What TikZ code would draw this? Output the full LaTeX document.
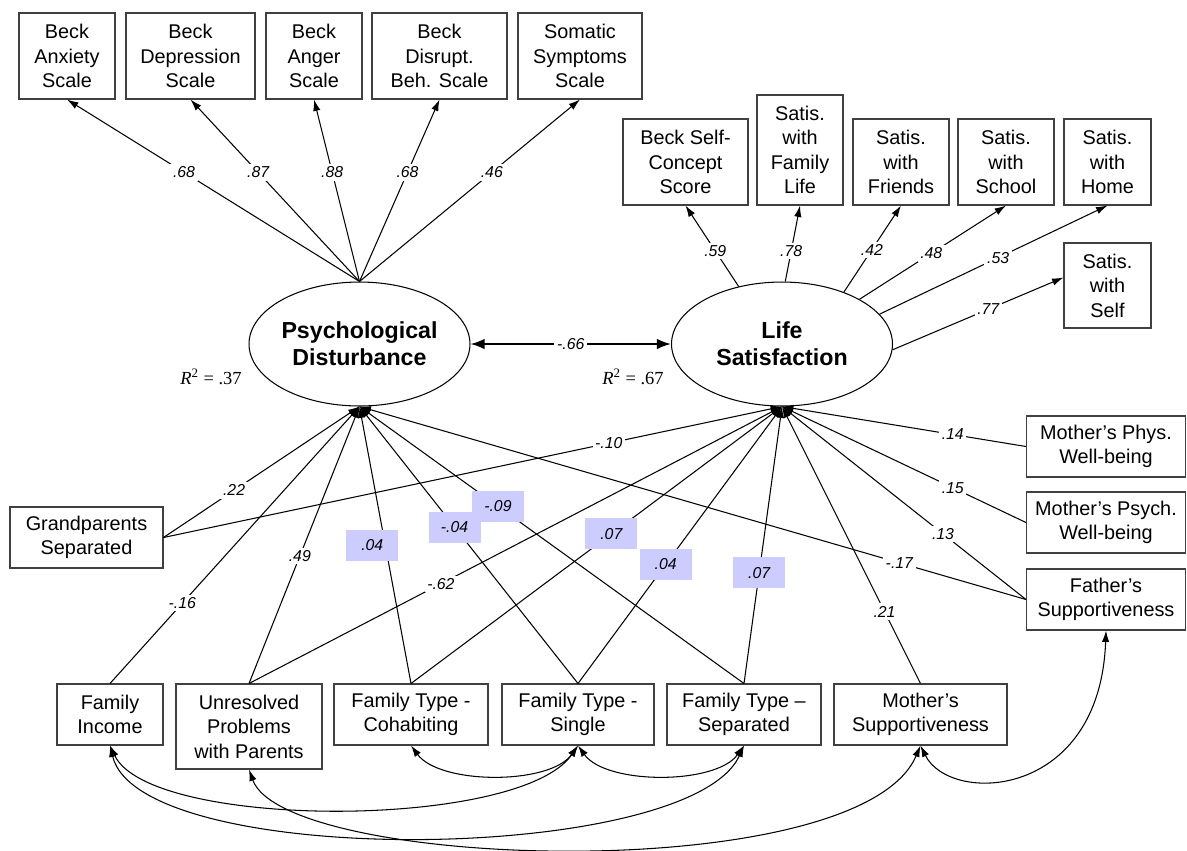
\documentclass[tikz,border=0pt]{standalone}
\usepackage{fontspec}
\setmainfont{Liberation Sans}
\newfontfamily\rsqfont{Liberation Serif}
\usetikzlibrary{arrows.meta, shapes.geometric}
\definecolor{lavbox}{RGB}{204,204,255}
\tikzset{
	obs/.style={draw=black!75, line width=0.6pt, inner sep=0pt, align=center, font=\fontsize{11.3}{13.9}\selectfont, minimum height=1.72cm},
	obstwo/.style={obs, minimum height=1.22cm},
	latent/.style={draw, ellipse, line width=0.6pt, inner sep=0pt, minimum width=4.42cm, minimum height=2.48cm, align=center, font=\fontsize{13.2}{15.3}\selectfont\bfseries},
	coef/.style={fill=white, inner sep=1.5pt, font=\fontsize{9}{10}\selectfont\itshape},
	coefhi/.style={fill=lavbox, inner sep=0pt, minimum width=1.04cm, minimum height=0.62cm, font=\fontsize{9}{10}\selectfont\itshape},
	rsq/.style={font=\rsqfont\fontsize{10.5}{12}\selectfont},
	regpath/.style={-{Latex[length=6.5pt, width=4.2pt]}, line width=0.6pt},
	covpath/.style={{Latex[length=6.5pt, width=4.2pt]}-{Latex[length=6.5pt, width=4.2pt]}, line width=0.6pt}
}
\begin{document}
\begin{tikzpicture}[x=0.02cm, y=-0.02cm]
	\useasboundingbox (0,0) rectangle (1187,850);
	\node[obs, minimum width=1.92cm] (anx) at (67,56) {Beck\\Anxiety\\Scale};
	\node[obs, minimum width=2.58cm] (dep) at (190.5,56) {Beck\\Depression\\Scale};
	\node[obs, minimum width=1.92cm] (ang) at (314,56) {Beck\\Anger\\Scale};
	\node[obs, minimum width=2.7cm] (dis) at (439.5,56) {Beck\\Disrupt.\\Beh. Scale};
	\node[obs, minimum width=2.48cm] (som) at (580,56) {Somatic\\Symptoms\\Scale};
	\node[obs, minimum width=2.5cm] (bsc) at (685.5,162) {Beck Self-\\Concept\\Score};
	\node[obs, minimum width=1.72cm, minimum height=2.2cm] (sfam) at (800,150) {Satis.\\with\\Family\\Life};
	\node[obs, minimum width=1.92cm] (sfri) at (901,162) {Satis.\\with\\Friends};
	\node[obs, minimum width=1.92cm] (ssch) at (1006,162) {Satis.\\with\\School};
	\node[obs, minimum width=1.74cm] (shom) at (1107.5,162) {Satis.\\with\\Home};
	\node[obs, minimum width=1.74cm, minimum height=1.7cm] (sself) at (1107.5,285.5) {Satis.\\with\\Self};
	\node[latent] (psy) at (359.5,344) {Psychological\\Disturbance};
	\node[latent] (lif) at (782,344) {Life\\Satisfaction};
	\node[rsq] (rpsy) at (211,377) {\textit{R}\textsuperscript{2} = .37};
	\node[rsq] (rlif) at (633,377) {\textit{R}\textsuperscript{2} = .67};
	\node[obstwo, minimum width=3.06cm] (gps) at (86.5,537.5) {Grandparents\\Separated};
	\node[obstwo, minimum width=3.18cm] (mphy) at (1106,446.5) {Mother’s Phys.\\Well-being};
	\node[obstwo, minimum width=3.18cm] (mpsy) at (1106,522.5) {Mother’s Psych.\\Well-being};
	\node[obstwo, minimum width=3.18cm] (fsup) at (1106,599.5) {Father’s\\Supportiveness};
	\node[obstwo, minimum width=2.12cm] (inc) at (110,714.5) {Family\\Income};
	\node[obs, minimum width=2.92cm, minimum height=1.7cm] (unr) at (249,726.5) {Unresolved\\Problems\\with Parents};
	\node[obstwo, minimum width=3.08cm] (coh) at (411,714.5) {Family Type -\\Cohabiting};
	\node[obstwo, minimum width=3.04cm] (sgl) at (578,714.5) {Family Type -\\Single};
	\node[obstwo, minimum width=3.08cm] (sep) at (744,714.5) {Family Type –\\Separated};
	\node[obstwo, minimum width=3.46cm] (msup) at (920.5,714.5) {Mother’s\\Supportiveness};

	\foreach \b/\v in {anx/.68, dep/.87, ang/.88, dis/.68, som/.46}
		\draw[regpath] (psy.north) -- node[coef, pos=0.6] (c\b) {\v} (\b.south);
	\foreach \a/\b/\p/\v in {127/bsc/.44/.59, 87/sfam/.4/.78, 40/sfri/.49/.42, 30/ssch/.49/.48, 17/shom/.52/.53}
		\draw[regpath] (lif.\a) -- node[coef, pos=\p] (c\b) {\v} (\b.south);
	\draw[regpath] (lif.357) -- node[coef, pos=0.56] (csself) {.77} ([yshift=0.16cm]sself.west);
	\draw[{Latex[length=8pt, width=6pt]}-{Latex[length=8pt, width=6pt]}, line width=1.1pt] (psy.east) -- node[coef] (ccor) {-.66} (lif.west);

	\foreach \s in {gps.east, inc.north, unr.north, coh.north, sgl.north, sep.north, fsup.west}
		\draw[regpath] (\s) -- (psy.south);
	\foreach \s in {gps.east, unr.north, coh.north, sgl.north, sep.north, msup.north, mphy.west, mpsy.west, fsup.west}
		\draw[regpath] (\s) -- (lif.south);

	\draw[covpath] (coh.south) .. controls (440,785) and (550,785) .. (sgl.south);
	\draw[covpath] (sgl.south) .. controls (606,785) and (716,785) .. (sep.south);
	\draw[covpath] (msup.south) .. controls (950,805) and (1100,800) .. (fsup.south);
	\draw[covpath] (inc.south) .. controls (150,830) and (520,830) .. (sgl.south);
	\draw[covpath] (inc.south) .. controls (140,870) and (690,865) .. (sep.south);
	\draw[covpath] (unr.south) .. controls (285,870) and (860,888) .. (msup.south);

	\foreach \s/\t/\p/\v [count=\i] in {gps.east/psy/.36/.22, gps.east/lif/.72/-.10, inc.north/psy/.29/-.16, unr.north/psy/.46/.49, unr.north/lif/.36/-.62, msup.north/lif/.26/.21, mphy.west/lif/.3/.14, mpsy.west/lif/.3/.15, fsup.west/lif/.34/.13, fsup.west/psy/.19/-.17}
		\path (\s) -- (\t.south) node[coef, pos=\p] (lab\i) {\v};
	\foreach \s/\t/\p/\v in {coh/lif/.54/.07, sgl/psy/.565/-.04, sgl/lif/.43/.04, sep/psy/.64/-.09, sep/lif/.4/.07}
		\path (\s.north) -- (\t.south) node[coefhi, pos=\p] (hl\s\t) {\v};
	\path (coh.north) -- (psy.south) node[coefhi, pos=.5, xshift=-0.26cm] (hlcohpsy) {.04};
\end{tikzpicture}
\end{document}
